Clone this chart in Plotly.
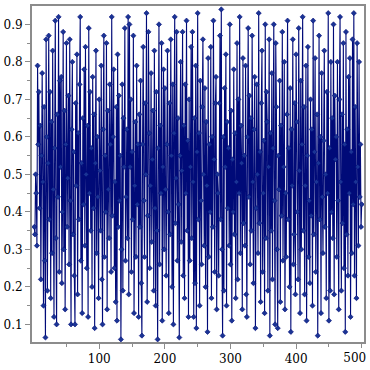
import plotly.graph_objects as go

values = [
0.36,0.34,0.50,0.45,0.31,0.79,0.58,0.72,0.41,0.63,0.22,0.55,0.77,0.48,0.15,0.68,0.27,0.065,0.86,0.60,
0.19,0.53,0.87,0.38,0.72,0.17,0.64,0.29,0.83,0.46,0.12,0.57,0.91,0.33,0.10,0.66,0.44,0.92,0.24,0.75,
0.52,0.76,0.21,0.40,0.88,0.30,0.67,0.14,0.58,0.85,0.36,0.49,0.71,0.26,0.86,0.43,0.10,0.62,0.80,0.34,
0.56,0.23,0.10,0.69,0.47,0.82,0.18,0.61,0.38,0.74,0.92,0.27,0.53,0.13,0.65,0.42,0.78,0.31,0.84,0.50,
0.25,0.63,0.12,0.89,0.45,0.72,0.35,0.57,0.20,0.76,0.41,0.66,0.09,0.53,0.83,0.29,0.60,0.44,0.17,0.70,
0.51,0.35,0.79,0.22,0.10,0.62,0.87,0.28,0.55,0.40,0.85,0.14,0.67,0.46,0.33,0.74,0.58,0.24,0.92,0.39,
0.60,0.78,0.25,0.48,0.16,0.68,0.11,0.82,0.36,0.71,0.43,0.55,0.06,0.30,0.74,0.19,0.65,0.52,0.89,0.27,
0.44,0.62,0.33,0.92,0.18,0.90,0.52,0.70,0.24,0.56,0.38,0.87,0.13,0.47,0.64,0.28,0.79,0.42,0.58,0.12,
0.66,0.36,0.75,0.21,0.07,0.58,0.84,0.43,0.28,0.69,0.50,0.93,0.16,0.39,0.88,0.61,0.25,0.47,0.77,0.32,
0.54,0.67,0.19,0.83,0.41,0.15,0.72,0.35,0.06,0.57,0.90,0.26,0.63,0.45,0.85,0.11,0.52,0.78,0.30,0.73,
0.46,0.23,0.58,0.83,0.40,0.13,0.69,0.34,0.86,0.55,0.20,0.74,0.10,0.61,0.92,0.37,0.49,0.88,0.27,0.65,
0.42,0.065,0.55,0.80,0.32,0.51,0.88,0.23,0.63,0.17,0.74,0.45,0.91,0.35,0.59,0.12,0.70,0.27,0.52,0.84,
0.33,0.88,0.48,0.12,0.65,0.21,0.79,0.09,0.56,0.93,0.38,0.61,0.15,0.75,0.43,0.26,0.68,0.86,0.50,0.31,
0.73,0.20,0.64,0.47,0.08,0.81,0.28,0.58,0.40,0.84,0.17,0.60,0.36,0.91,0.54,0.24,0.69,0.76,0.14,0.50,
0.45,0.23,0.69,0.87,0.38,0.94,0.30,0.07,0.60,0.19,0.73,0.52,0.82,0.15,0.64,0.41,0.57,0.31,0.90,0.26,
0.67,0.11,0.54,0.40,0.78,0.34,0.61,0.17,0.48,0.85,0.22,0.70,0.45,0.92,0.29,0.63,0.53,0.14,0.81,0.37,
0.55,0.31,0.79,0.18,0.12,0.60,0.89,0.44,0.71,0.26,0.65,0.35,0.87,0.48,0.21,0.62,0.76,0.09,0.41,0.74,
0.50,0.29,0.93,0.37,0.56,0.16,0.69,0.83,0.24,0.45,0.59,0.13,0.90,0.33,0.72,0.64,0.19,0.52,0.86,0.07,
0.61,0.35,0.77,0.22,0.57,0.90,0.43,0.10,0.85,0.68,0.30,0.09,0.55,0.46,0.75,0.16,0.63,0.39,0.88,0.27,
0.52,0.80,0.14,0.45,0.28,0.66,0.91,0.38,0.57,0.20,0.73,0.08,0.62,0.47,0.86,0.26,0.34,0.69,0.18,0.82,
0.64,0.40,0.22,0.89,0.51,0.13,0.75,0.30,0.58,0.92,0.35,0.68,0.18,0.47,0.79,0.11,0.55,0.84,0.28,0.43,
0.21,0.70,0.39,0.62,0.15,0.91,0.34,0.56,0.81,0.24,0.48,0.66,0.07,0.53,0.87,0.38,0.60,0.13,0.77,0.44,
0.29,0.59,0.83,0.36,0.50,0.17,0.72,0.45,0.93,0.11,0.57,0.19,0.80,0.40,0.65,0.33,0.90,0.18,0.71,0.54,
0.60,0.28,0.80,0.43,0.14,0.70,0.92,0.48,0.19,0.66,0.37,0.85,0.25,0.58,0.08,0.88,0.34,0.62,0.23,0.76,
0.45,0.81,0.12,0.56,0.29,0.86,0.42,0.93,0.23,0.68,0.48,0.17,0.85,0.52,0.31,0.80,0.44,0.58,0.36,0.42,
]
index = list(range(1, len(values) + 1))

x_ticks = [100, 200, 300, 400]
x_edge_tick = [500]
y_ticks = [0.1, 0.2, 0.3, 0.4, 0.5, 0.6, 0.7, 0.8, 0.9]

navy = "#000a78"
marker_blue = "#1a3494"
gray = "#8c8c8c"
font = dict(family="DejaVu Serif, Liberation Serif, serif", size=12, color="black")
x_range = [-2.5, 503.5]

fig = go.Figure()
fig.add_trace(go.Scatter(
    x=index, y=values, mode="lines+markers",
    line=dict(color=navy, width=1.1),
    marker=dict(symbol="diamond", size=4, color=marker_blue, line=dict(width=0.6, color=navy)),
))
# invisible helper trace so the overlay axis carrying the edge tick label is drawn
fig.add_trace(go.Scatter(x=index[-1:], y=values[-1:], xaxis="x2", mode="markers",
                         marker=dict(opacity=0), hoverinfo="skip"))

axis_common = dict(
    showline=True, mirror=True, linecolor=gray, linewidth=2,
    ticks="outside", tickcolor=gray, ticklen=5, tickwidth=1,
    showgrid=False, zeroline=False, tickfont=font,
)
fig.update_layout(
    xaxis=dict(range=x_range, tickvals=x_ticks, ticktext=[str(v) for v in x_ticks],
               minor=dict(tickvals=[50, 150, 250, 350, 450], ticks="outside", ticklen=3, tickcolor=gray),
               **axis_common),
    xaxis2=dict(range=x_range, overlaying="x", side="bottom", anchor="y",
                tickvals=x_edge_tick, ticktext=[str(v) for v in x_edge_tick],
                ticks="outside", tickcolor=gray, ticklen=5, tickwidth=1,
                ticklabelshift=-7, showline=False, showgrid=False, zeroline=False, tickfont=font),
    yaxis=dict(range=[0.053, 0.949], tickvals=y_ticks, ticktext=[str(v) for v in y_ticks],
               minor=dict(tickvals=[0.15, 0.25, 0.35, 0.45, 0.55, 0.65, 0.75, 0.85], ticks="outside", ticklen=3, tickcolor=gray),
               **axis_common),
    width=370, height=370,
    margin=dict(l=27, r=4, t=4, b=22),
    plot_bgcolor="white", paper_bgcolor="white",
    showlegend=False,
)
fig.write_html(
    "out.html", config={"displayModeBar": False},
    post_script=("document.documentElement.style.overflow='hidden';"
                 "document.body.style.overflow='hidden';"
                 "document.body.style.margin='0';document.body.style.padding='0';"),
)
